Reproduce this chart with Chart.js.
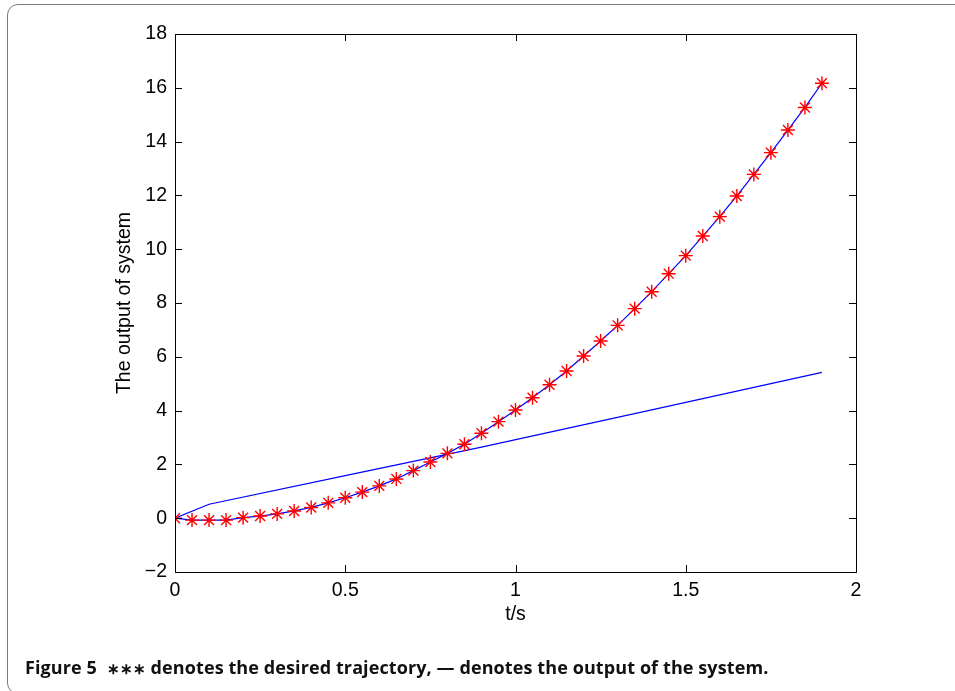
<!DOCTYPE html>
<html>
<head>
<meta charset="utf-8">
<script src="https://cdn.jsdelivr.net/npm/chart.js@4.4.1/dist/chart.umd.min.js"></script>
<style>
  html, body { margin: 0; padding: 0; background: #fff; }
  body { width: 955px; height: 691px; position: relative; overflow: hidden; }
  .frame {
    position: absolute; left: 7px; top: 4px; width: 1000px; height: 690px;
    border: 1.5px solid #7a7a7a; border-radius: 11px; box-sizing: border-box;
  }
  #chart { position: absolute; left: 0; top: 0; }
  .caption {
    position: absolute; left: 25px; top: 657px; white-space: nowrap; line-height: 20px;
    font-family: "Open Sans", sans-serif; font-weight: 700; font-size: 18px; color: #111;
    letter-spacing: 0.1px;
  }
  .caption .ast { font-size: 15px; }
</style>
</head>
<body>
<div class="frame"></div>
<canvas id="chart" width="955" height="691"></canvas>
<div class="caption">Figure 5&nbsp;&nbsp;<span class="ast">∗∗∗</span> denotes the desired trajectory, — denotes the output of the system.</div>
<script>
// desired trajectory (red stars), sampled every 0.05 s
const desiredT = [0, 0.05, 0.1, 0.15, 0.2, 0.25, 0.3, 0.35, 0.4, 0.45, 0.5, 0.55, 0.6, 0.65, 0.7, 0.75,
    0.8, 0.85, 0.9, 0.95, 1.0, 1.05, 1.1, 1.15, 1.2, 1.25, 1.3, 1.35, 1.4, 1.45, 1.5, 1.55, 1.6, 1.65,
    1.7, 1.75, 1.8, 1.85, 1.9];
const desiredY = [0, -0.07, -0.07, -0.07, 0.02, 0.08, 0.16, 0.27, 0.40, 0.57, 0.76, 0.97, 1.20, 1.46,
    1.77, 2.09, 2.41, 2.75, 3.16, 3.59, 4.02, 4.48, 4.96, 5.47, 6.03, 6.59, 7.17, 7.79, 8.42, 9.09,
    9.76, 10.49, 11.21, 11.98, 12.78, 13.59, 14.43, 15.27, 16.17];

// output of the system (straight blue line)
const outputT = [0, 0.1, 0.5, 0.9, 1.4, 1.9];
const outputY = [0, 0.52, 1.58, 2.64, 4.03, 5.42];

const xTicks = [0, 0.5, 1, 1.5, 2];
const yTicks = [-2, 0, 2, 4, 6, 8, 10, 12, 14, 16, 18];

const toPoints = (xs, ys) => xs.map((x, i) => ({ x: x, y: ys[i] }));

const tickFont = { family: '"Liberation Sans", Arial, sans-serif', size: 19.5 };

// box around the plot and inward ticks, like the matlab figure
const boxPlugin = {
    id: 'box',
    afterDraw(chart) {
        const ctx = chart.ctx, a = chart.chartArea;
        const xs = chart.scales.x, ys = chart.scales.y;
        const len = 7;
        ctx.save();
        ctx.strokeStyle = '#000';
        ctx.lineWidth = 1;
        ctx.strokeRect(a.left + 0.5, a.top + 0.5, a.right - a.left, a.bottom - a.top);
        ctx.beginPath();
        xTicks.forEach(v => {
            const px = Math.round(xs.getPixelForValue(v)) + 0.5;
            ctx.moveTo(px, a.bottom); ctx.lineTo(px, a.bottom - len);
            ctx.moveTo(px, a.top); ctx.lineTo(px, a.top + len);
        });
        yTicks.forEach(v => {
            const py = Math.round(ys.getPixelForValue(v)) + 0.5;
            ctx.moveTo(a.left, py); ctx.lineTo(a.left + len, py);
            ctx.moveTo(a.right, py); ctx.lineTo(a.right - len, py);
        });
        ctx.stroke();
        ctx.restore();
    }
};

new Chart(document.getElementById('chart'), {
    type: 'scatter',
    data: {
        datasets: [{
            label: 'desired',
            data: toPoints(desiredT, desiredY),
            showLine: false,
            pointStyle: 'star',
            pointRadius: 7,
            pointBorderWidth: 1.4,
            borderColor: '#ff0000',
            backgroundColor: '#ff0000'
        }, {
            label: 'tracking',
            data: toPoints(desiredT, desiredY),
            showLine: true,
            pointRadius: 0,
            borderWidth: 1.2,
            borderColor: '#0000ff'
        }, {
            label: 'output',
            data: toPoints(outputT, outputY),
            showLine: true,
            pointRadius: 0,
            borderWidth: 1.2,
            borderColor: '#0000ff'
        }]
    },
    options: {
        responsive: false,
        animation: false,
        devicePixelRatio: 1,
        layout: { padding: { left: 105, top: 34, right: 99, bottom: 64 } },
        plugins: { legend: { display: false }, tooltip: { enabled: false } },
        scales: {
            x: {
                type: 'linear',
                min: 0, max: 2,
                afterFit: s => { s.height = 55; },
                afterBuildTicks: s => { s.ticks = xTicks.map(v => ({ value: v })); },
                grid: { display: false, drawTicks: false },
                border: { display: false },
                ticks: { color: '#000', font: tickFont, padding: 7, maxRotation: 0, callback: v => String(v) },
                title: { display: true, text: 't/s', color: '#000', font: tickFont, padding: { top: 0, bottom: 1 } }
            },
            y: {
                type: 'linear',
                min: -2, max: 18,
                afterFit: s => { s.width = 70; },
                afterBuildTicks: s => { s.ticks = yTicks.map(v => ({ value: v })); },
                grid: { display: false, drawTicks: false },
                border: { display: false },
                ticks: { color: '#000', font: tickFont, padding: 8, callback: v => (v < 0 ? '\u2212' + Math.abs(v) : String(v)) },
                title: { display: true, text: 'The output of system', color: '#000', font: tickFont, padding: { top: 8, bottom: 0 } }
            }
        }
    },
    plugins: [boxPlugin]
});
</script>
</body>
</html>
